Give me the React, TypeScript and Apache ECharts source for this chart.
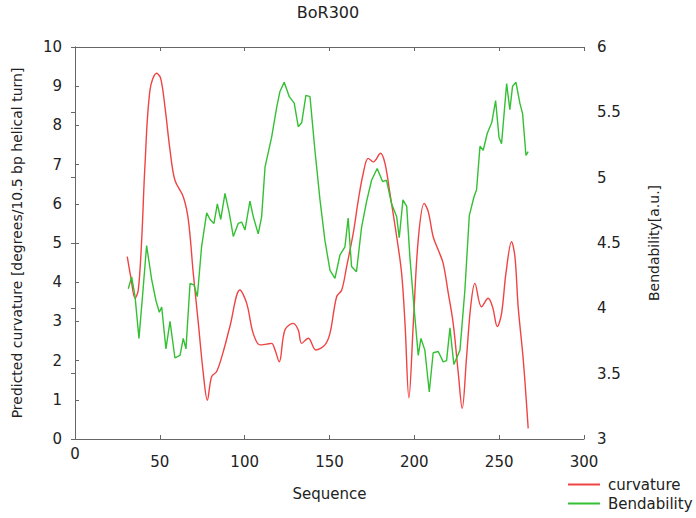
import React, { useEffect, useRef } from "react";
import * as echarts from "echarts";

const curvatureX = [30.8, 33, 35.4, 37.3, 39.3, 41.2, 44.2, 48.1, 50.5, 53, 56, 58.9, 63.8, 66.8, 69.7, 72.7, 75.6, 78, 80.5, 83.5, 87.4, 91.3, 97.2, 101.2, 105, 109, 113, 115.9, 117.9, 120.4, 123.7, 128.6, 131.6, 133.6, 137.5, 142, 147.3, 150.3, 154.2, 157.2, 160.1, 164, 167, 169.9, 172.8, 175.8, 180.1, 182.7, 185.6, 189.6, 192.5, 194.5, 196.8, 199.4, 202.3, 205.8, 208.2, 211.1, 214.1, 217, 220, 222.9, 225.9, 228.2, 230.8, 233.2, 235.7, 239.6, 243.5, 246.1, 248.9, 251.4, 254, 257.3, 259.3, 261.2, 264.2, 267.1];
const curvatureY = [4.65, 4.1, 3.59, 3.8, 5.08, 6.95, 8.9, 9.33, 9.2, 8.48, 7.37, 6.6, 6.18, 5.59, 4.23, 2.95, 1.68, 0.99, 1.59, 1.72, 2.23, 2.87, 3.8, 3.46, 2.7, 2.4, 2.42, 2.44, 2.27, 1.97, 2.78, 2.95, 2.78, 2.44, 2.57, 2.27, 2.4, 2.7, 3.63, 3.8, 4.4, 5.25, 6.1, 6.78, 7.16, 7.07, 7.29, 7.03, 6.27, 5.16, 4.23, 2.95, 1.05, 2.95, 5.08, 6.01, 5.8, 5.16, 4.82, 4.48, 3.72, 2.95, 1.68, 0.78, 2.1, 3.37, 3.97, 3.37, 3.59, 3.37, 2.87, 3.2, 4.23, 5.03, 4.65, 3.37, 2.02, 0.27];

const bendX = [31.4, 33.4, 35.4, 37.7, 39.9, 42.2, 45.2, 47.7, 49.7, 51.1, 53.6, 56, 58.9, 61.9, 63.8, 65.4, 67.8, 70.1, 72.1, 74.6, 77.6, 79.6, 81.9, 83.9, 85.9, 88.4, 90.9, 93.3, 96.2, 98.2, 100.2, 103.1, 105.1, 108, 110, 112, 115.9, 118.9, 120.8, 123.3, 126.3, 129.2, 131.6, 133.6, 136.1, 138.5, 141.4, 144.4, 147.3, 150.3, 153.2, 156.2, 159.1, 161, 163, 165.9, 168.9, 171.9, 174.8, 178.1, 181.3, 183.6, 186.6, 189.6, 191.1, 193.3, 195.5, 197.4, 199.8, 202.3, 203.9, 206.2, 208.8, 211.1, 214.1, 217, 219, 221, 223.3, 226.9, 229.8, 232.4, 235.1, 236.7, 238.7, 240.6, 243, 245.6, 247.9, 249.9, 251.4, 254.4, 256.3, 257.9, 259.9, 262.2, 263.8, 265.8, 267.1];
const bendY = [4.15, 4.24, 4.09, 3.77, 4.11, 4.48, 4.22, 4.06, 3.97, 4.01, 3.69, 3.9, 3.62, 3.64, 3.77, 3.69, 4.19, 4.18, 4.09, 4.47, 4.73, 4.68, 4.65, 4.8, 4.68, 4.88, 4.73, 4.55, 4.65, 4.66, 4.6, 4.82, 4.7, 4.57, 4.7, 5.08, 5.31, 5.54, 5.66, 5.73, 5.62, 5.57, 5.39, 5.42, 5.63, 5.62, 5.21, 4.83, 4.52, 4.29, 4.23, 4.41, 4.47, 4.69, 4.32, 4.28, 4.62, 4.82, 4.98, 5.07, 4.97, 4.98, 4.8, 4.7, 4.54, 4.83, 4.78, 4.39, 4.01, 3.64, 3.77, 3.68, 3.36, 3.66, 3.67, 3.59, 3.6, 3.85, 3.57, 3.68, 4.14, 4.71, 4.85, 4.91, 5.24, 5.21, 5.34, 5.42, 5.59, 5.31, 5.26, 5.72, 5.52, 5.7, 5.73, 5.57, 5.49, 5.17, 5.2];

const seriesNames = ["curvature", "Bendability"];
const titleText = "BoR300";
const xAxisTitle = "Sequence";
const leftAxisTitle = "Predicted curvature [degrees/10.5 bp helical turn]";
const rightAxisTitle = "Bendability[a.u.]";

const FONT = "DejaVu Sans";
const AXIS_COLOR = "#666";
const TEXT_COLOR = "#222";
const RED = "#f04343";
const GREEN = "#33c033";

export default function App() {
  const ref = useRef<HTMLDivElement>(null);
  useEffect(() => {
    if (!ref.current) return;
    const chart = echarts.init(ref.current, undefined, { renderer: "svg" });
    const axisLine = { show: true, lineStyle: { color: AXIS_COLOR, width: 1 } };
    const axisTick = { show: true, inside: true, length: 4, lineStyle: { color: AXIS_COLOR } };
    chart.setOption({
      animation: false,
      backgroundColor: "#fff",
      title: {
        text: titleText,
        left: 328,
        top: 4,
        padding: 0,
        textAlign: "center",
        textStyle: { fontFamily: FONT, fontSize: 16, fontWeight: "normal", color: TEXT_COLOR },
      },
      legend: {
        orient: "vertical",
        left: 563,
        top: 472,
        itemWidth: 32,
        itemHeight: 2,
        itemGap: 4,
        icon: "rect",
        data: seriesNames,
        textStyle: { fontFamily: FONT, fontSize: 15, color: TEXT_COLOR, padding: [0, 0, 0, 3] },
      },
      grid: { left: 75, right: 112, top: 47, bottom: 79, containLabel: false },
      xAxis: [
        {
          type: "value",
          min: 0,
          max: 300,
          interval: 50,
          position: "bottom",
          name: xAxisTitle,
          nameLocation: "middle",
          nameGap: 47,
          nameTextStyle: { fontFamily: FONT, fontSize: 15, color: TEXT_COLOR },
          axisLine,
          axisTick,
          splitLine: { show: false },
          axisLabel: {
            margin: 15,
            fontFamily: FONT,
            fontSize: 15,
            color: TEXT_COLOR,
            formatter: (v: number) => (v === 0 ? "{z|0}" : String(v)),
            rich: { z: { fontFamily: FONT, fontSize: 15, color: TEXT_COLOR, lineHeight: 0 } },
          },
        },
        {
          type: "value",
          min: 0,
          max: 300,
          interval: 50,
          position: "top",
          axisLine,
          axisTick,
          axisLabel: { show: false },
          splitLine: { show: false },
        },
      ],
      yAxis: [
        {
          type: "value",
          min: 0,
          max: 10,
          interval: 1,
          position: "left",
          name: leftAxisTitle,
          nameLocation: "middle",
          nameGap: 51,
          nameTextStyle: { fontFamily: FONT, fontSize: 14, color: TEXT_COLOR },
          axisLine,
          axisTick,
          splitLine: { show: false },
          axisLabel: { margin: 13, fontFamily: FONT, fontSize: 15, color: TEXT_COLOR },
        },
        {
          type: "value",
          min: 3,
          max: 6,
          interval: 0.5,
          position: "right",
          name: rightAxisTitle,
          nameLocation: "middle",
          nameGap: 63,
          nameTextStyle: { fontFamily: FONT, fontSize: 14, color: TEXT_COLOR },
          axisLine,
          axisTick,
          splitLine: { show: false },
          axisLabel: { margin: 13, fontFamily: FONT, fontSize: 15, color: TEXT_COLOR },
        },
      ],
      series: [
        {
          name: seriesNames[0],
          type: "line",
          xAxisIndex: 0,
          yAxisIndex: 0,
          showSymbol: false,
          symbol: "none",
          smooth: 0.35,
          data: curvatureX.map((x, i) => [x, curvatureY[i]]),
          lineStyle: { color: RED, width: 1.4 },
          itemStyle: { color: RED },
        },
        {
          name: seriesNames[1],
          type: "line",
          xAxisIndex: 0,
          yAxisIndex: 1,
          showSymbol: false,
          symbol: "none",
          data: bendX.map((x, i) => [x, bendY[i]]),
          lineStyle: { color: GREEN, width: 1.4 },
          itemStyle: { color: GREEN },
        },
      ],
    });
    return () => chart.dispose();
  }, []);
  return <div ref={ref} style={{ width: 696, height: 518, position: "absolute", left: 0, top: 0 }} />;
}
